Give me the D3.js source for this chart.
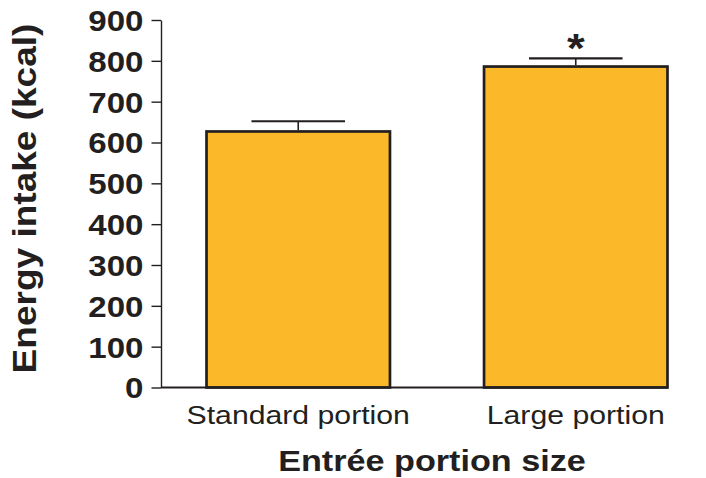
<!DOCTYPE html>
<html>
<head>
<meta charset="utf-8">
<script src="https://cdn.jsdelivr.net/npm/d3@7"></script>
<style>
  html, body { margin: 0; padding: 0; background: #fff; }
  svg { display: block; }
  text { font-family: "Liberation Sans", Arial, Helvetica, sans-serif; fill: #231F20; }
</style>
</head>
<body>
<svg id="chart" width="706" height="478"></svg>
<script>
// ---- data ----
const categories = ["Standard portion", "Large portion"];
const means = [627, 786];
const errors = [25, 20];          // SEM (upper whisker length)
const significance = ["", "*"];
const yTicks = [0, 100, 200, 300, 400, 500, 600, 700, 800, 900];
const yLabel = "Energy intake (kcal)";
const xLabel = "Entrée portion size";

// ---- layout ----
const ink = "#231F20";
const fillColor = "#FBB829";
const sx = 1.14; // horizontal text stretch of the reference typeface

const svg = d3.select("#chart");

const x = d3.scaleBand()
  .domain(categories)
  .range([161, 713])
  .paddingInner(0.339)
  .paddingOuter(0.164);

const y = d3.scaleLinear()
  .domain([0, 900])
  .range([387.5, 20]);

// bars
svg.selectAll("rect.bar")
  .data(categories)
  .join("rect")
  .attr("class", "bar")
  .attr("x", d => x(d))
  .attr("width", x.bandwidth())
  .attr("y", (d, i) => y(means[i]))
  .attr("height", (d, i) => y(0) - y(means[i]))
  .attr("fill", fillColor)
  .attr("stroke", ink)
  .attr("stroke-width", 2.7);

// error bars
const capHalf = x.bandwidth() * 0.255;
const eb = svg.selectAll("g.err")
  .data(categories)
  .join("g")
  .attr("class", "err");
eb.append("line")
  .attr("x1", d => x(d) + x.bandwidth() / 2)
  .attr("x2", d => x(d) + x.bandwidth() / 2)
  .attr("y1", (d, i) => y(means[i]) - 1.35)
  .attr("y2", (d, i) => y(means[i] + errors[i]))
  .attr("stroke", ink)
  .attr("stroke-width", 1.6);
eb.append("line")
  .attr("x1", d => x(d) + x.bandwidth() / 2 - capHalf)
  .attr("x2", d => x(d) + x.bandwidth() / 2 + capHalf)
  .attr("y1", (d, i) => y(means[i] + errors[i]))
  .attr("y2", (d, i) => y(means[i] + errors[i]))
  .attr("stroke", ink)
  .attr("stroke-width", 2.2);

// significance markers
svg.selectAll("text.sig")
  .data(categories)
  .join("text")
  .attr("class", "sig")
  .attr("transform", (d, i) => `translate(${x(d) + x.bandwidth() / 2},${y(means[i] + errors[i]) + 4}) scale(${sx},1)`)
  .attr("text-anchor", "middle")
  .attr("font-weight", "bold")
  .attr("font-size", 40)
  .text((d, i) => significance[i]);

// baseline
svg.append("line")
  .attr("x1", 161)
  .attr("x2", x(categories[categories.length - 1]) + x.bandwidth())
  .attr("y1", y(0))
  .attr("y2", y(0))
  .attr("stroke", ink)
  .attr("stroke-width", 2.2);

// y axis
const yAxis = svg.append("g")
  .attr("transform", "translate(161,0)")
  .call(d3.axisLeft(y).tickValues(yTicks).tickSize(9.5).tickSizeOuter(0).tickFormat(d3.format("d")));
yAxis.select(".domain").attr("stroke", ink).attr("stroke-width", 1.4);
yAxis.selectAll(".tick line").attr("stroke", ink).attr("stroke-width", 1.4);
yAxis.selectAll(".tick text")
  .attr("x", -17.5 / sx)
  .attr("dy", "0.36em")
  .attr("transform", `scale(${sx},1)`)
  .attr("fill", ink)
  .style("font-family", '"Liberation Sans", Arial, sans-serif')
  .style("font-weight", "bold")
  .style("font-size", "29px");

// category labels
svg.selectAll("text.cat")
  .data(categories)
  .join("text")
  .attr("class", "cat")
  .attr("transform", d => `translate(${x(d) + x.bandwidth() / 2},424) scale(${sx},1)`)
  .attr("text-anchor", "middle")
  .attr("font-size", 26.5)
  .text(d => d);

// axis titles
svg.append("text")
  .attr("transform", `translate(432,471) scale(${sx},1)`)
  .attr("text-anchor", "middle")
  .attr("font-weight", "bold")
  .attr("font-size", 30)
  .text(xLabel);

svg.append("text")
  .attr("transform", `translate(36,198.5) rotate(-90) scale(${sx},1)`)
  .attr("text-anchor", "middle")
  .attr("font-weight", "bold")
  .attr("font-size", 32.5)
  .text(yLabel);
</script>
</body>
</html>
